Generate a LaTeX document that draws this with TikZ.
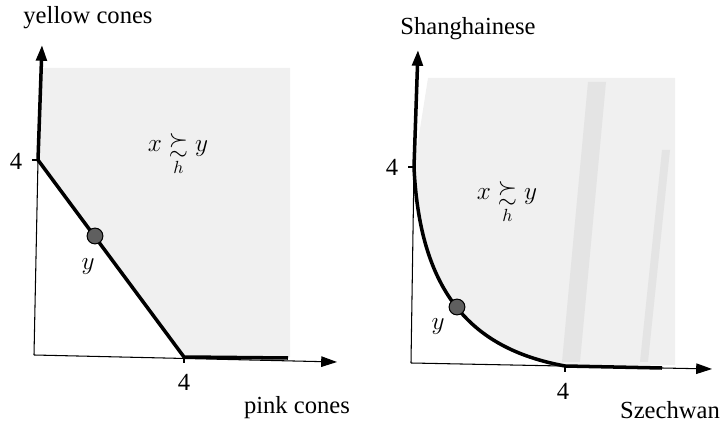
\documentclass[tikz,border=0pt]{standalone}
\usepackage{fontspec}
\setmainfont{Liberation Serif}
\usepackage{amsmath}
\usepackage{amssymb}
\usetikzlibrary{arrows.meta,positioning}
\definecolor{areagray}{RGB}{240,240,240}
\definecolor{stripegray}{RGB}{228,228,228}
\definecolor{dotgray}{RGB}{95,95,95}

\begin{document}
\begin{tikzpicture}[x=0.02cm,y=-0.02cm,
  axis/.style={draw=black,line width=0.6pt,-{Triangle[length=9pt,width=6pt]}},
  bound/.style={draw=black,line width=2pt},
  pt/.style={circle,draw=black,fill=dotgray,minimum size=9pt,inner sep=0pt,line width=0.6pt},
  lbl/.style={font=\fontsize{14}{16}\selectfont,inner sep=0pt},
]
  \useasboundingbox (0,0) rectangle (728,422);

  % left panel: pink / yellow cones
  \coordinate (o1) at (34,355);
  \coordinate (ytop1) at (42,45);
  \coordinate (xend1) at (337,362);
  \coordinate (k1) at (38,160);
  \coordinate (b1) at (184,357);
  \coordinate (e1) at (288,358);
  \fill[areagray] (42,68) -- (290,68) -- (290,357) -- (b1) -- (k1) -- cycle;
  \draw[axis] (o1) -- (xend1);
  \draw[line width=0.6pt] (o1) -- (k1);
  \draw[bound,-{Triangle[length=9pt,width=6pt]}] (k1) -- (ytop1);
  \draw[bound] (k1) -- (b1) -- (e1);
  \draw[line width=0.6pt] (k1) -- ++(-6,0);
  \draw[line width=0.6pt] (b1) -- ++(0,6);
  \node[pt] (y1) at (95,236) {};
  \node[lbl] (ylbl1) at (88,267) {$y$};
  \node[lbl] (pref1) at (178,155) {$x \mathrel{\underset{h}{\succsim}} y$};
  \node[lbl] (four1y) at (16,161) {4};
  \node[lbl] (four1x) at (184,382) {4};
  \node[lbl] (yname1) at (88,18) {yellow cones};
  \node[lbl] (xname1) at (297,408) {pink cones};

  % right panel: Szechwan / Shanghainese
  \coordinate (o2) at (411,363);
  \coordinate (ytop2) at (418,50);
  \coordinate (xend2) at (712,369);
  \coordinate (k2) at (414,167);
  \coordinate (b2) at (565,366);
  \coordinate (e2) at (662,368);
  \fill[areagray] (428,78) -- (675,78) -- (675,365) -- (b2)
    .. controls (478,350) and (420,300) .. (k2) -- cycle;
  \fill[stripegray] (588,82) -- (606,82) -- (580,362) -- (562,362) -- cycle;
  \fill[stripegray] (662,150) -- (670,150) -- (648,362) -- (640,362) -- cycle;
  \draw[axis] (o2) -- (xend2);
  \draw[line width=0.6pt] (o2) -- (k2);
  \draw[bound,-{Triangle[length=9pt,width=6pt]}] (k2) -- (ytop2);
  \draw[bound] (k2) .. controls (420,300) and (478,350) .. (b2) -- (e2);
  \draw[line width=0.6pt] (k2) -- ++(-6,0);
  \draw[line width=0.6pt] (b2) -- ++(0,6);
  \node[pt] (y2) at (457,307) {};
  \node[lbl] (ylbl2) at (438,327) {$y$};
  \node[lbl] (pref2) at (507,203) {$x \mathrel{\underset{h}{\succsim}} y$};
  \node[lbl] (four2y) at (392,167) {4};
  \node[lbl] (four2x) at (563,391) {4};
  \node[lbl] (yname2) at (468,29) {Shanghainese};
  \node[lbl] (xname2) at (670,410) {Szechwan};
\end{tikzpicture}
\end{document}
